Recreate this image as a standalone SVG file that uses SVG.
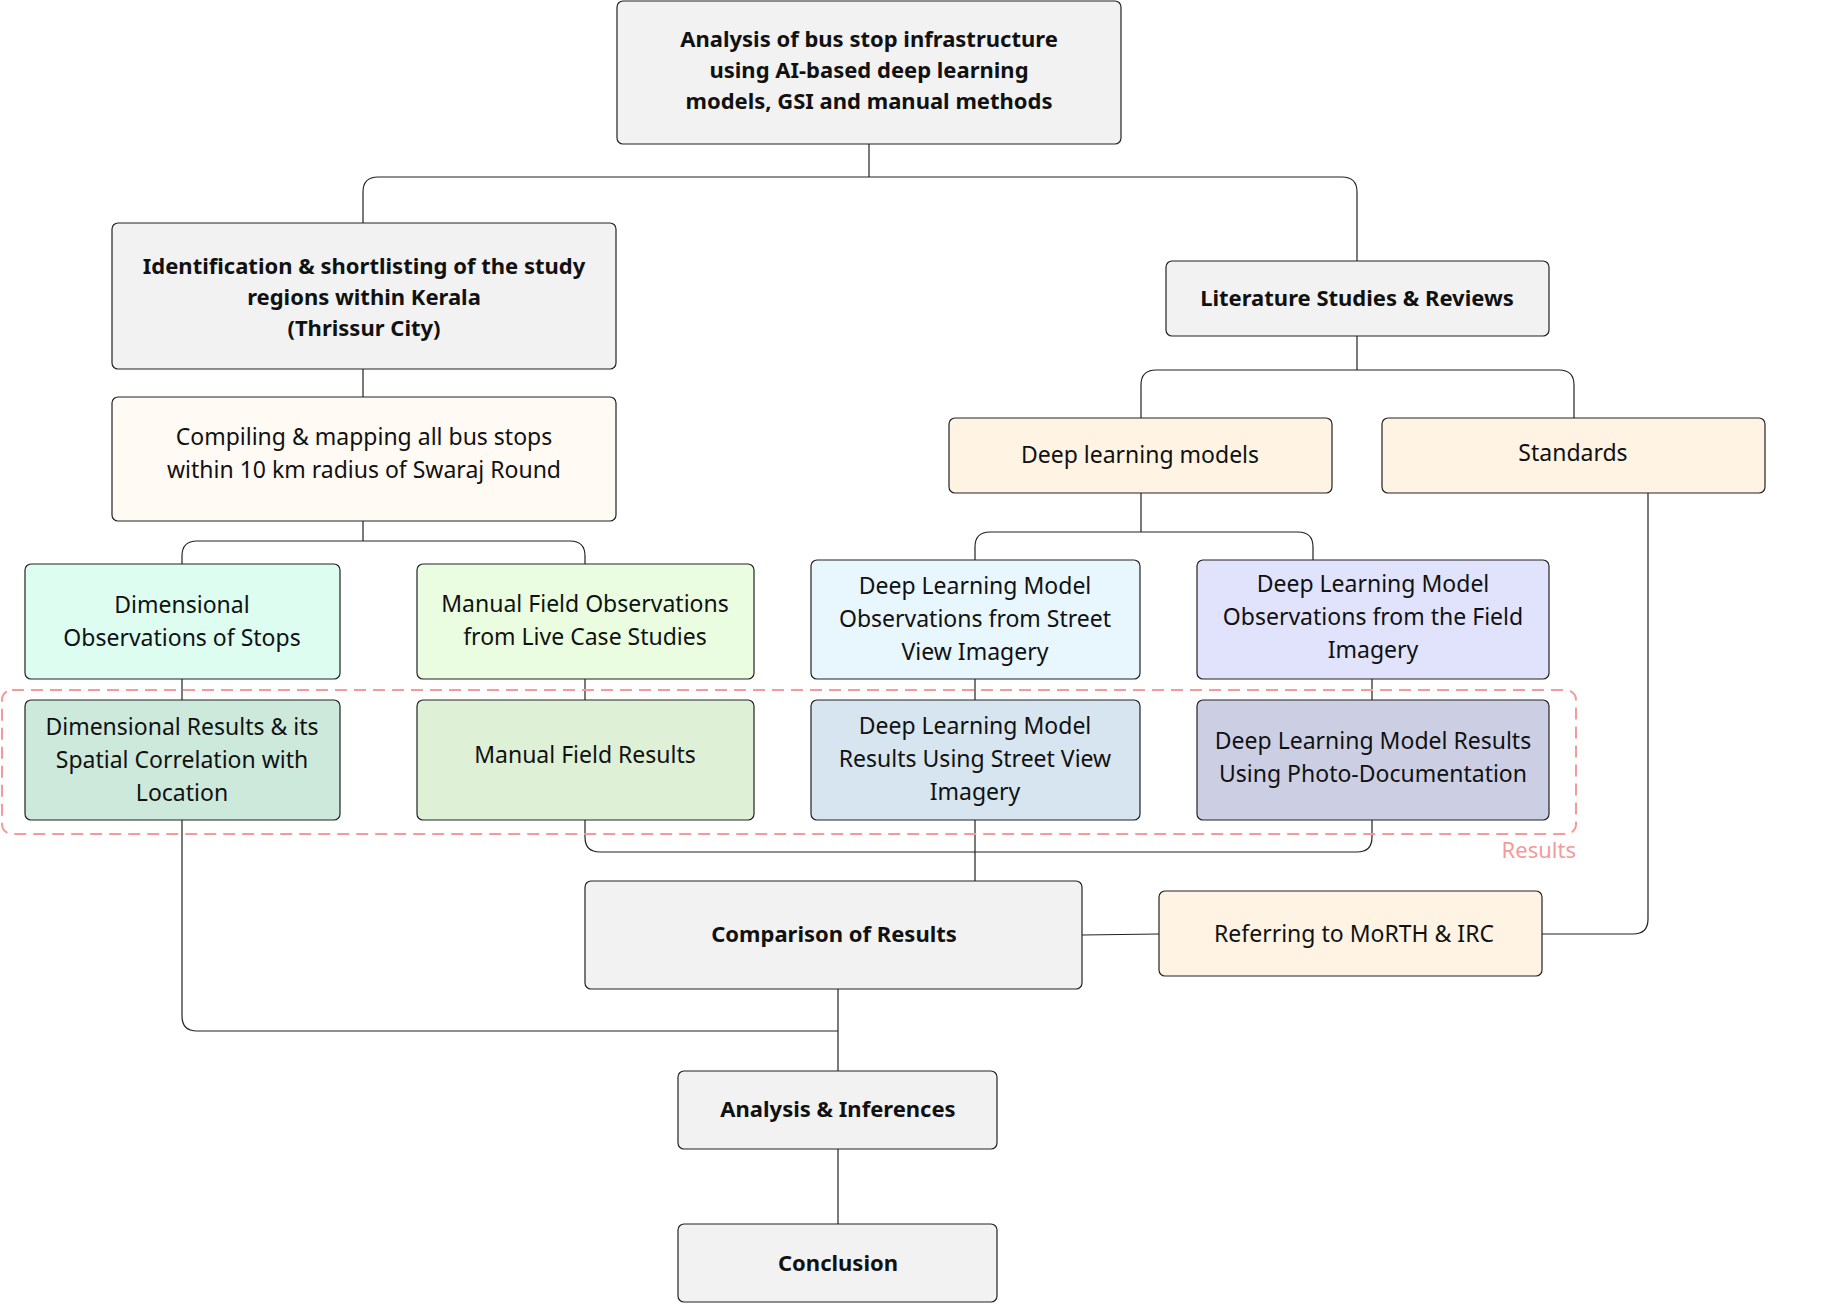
<svg xmlns="http://www.w3.org/2000/svg" width="1828" height="1305" viewBox="0 0 1828 1305">
<style>
.b{stroke:#222;stroke-width:1.2}
.g{fill:#f2f2f2}
.c{fill:#fff3e3}
text{font-family:"Noto Sans","Liberation Sans",sans-serif;font-size:23px;fill:#111;text-anchor:middle}
.t{font-weight:bold;font-size:22px}
.l{fill:none;stroke:#222;stroke-width:1.2}
</style>
<rect width="1828" height="1305" fill="#fff"/>
<g id="connectors">
<path class="l" d="M869 144V177M363 223V192Q363 177 378 177H1342Q1357 177 1357 192V261"/>
<path class="l" d="M1357 336V370H1156Q1141 370 1141 385V418M1357 370H1559Q1574 370 1574 385V418"/>
<path class="l" d="M363 369V397M363 521V541H197Q182 541 182 556V564M363 541H570Q585 541 585 556V564"/>
<path class="l" d="M1141 493V532H990Q975 532 975 547V560M1141 532H1298Q1313 532 1313 547V560"/>
<path class="l" d="M182 679V700M585 679V700M975 679V700M1372 679V700"/>
<path class="l" d="M585 820V837Q585 852 600 852H1357Q1372 852 1372 837V820M975 820V881"/>
<path class="l" d="M1082 935L1159 934M1542 934H1633Q1648 934 1648 919V493"/>
<path class="l" d="M182 820V1016Q182 1031 197 1031H838M838 989V1071M838 1149V1224"/>
</g>
<g id="results-group">
<rect x="2" y="690" width="1574" height="144" rx="10" fill="none" stroke="#f59a9a" stroke-width="2" stroke-dasharray="12 7"/>
<text x="1576" y="858" style="text-anchor:end;fill:#f59a9a;font-size:22px">Results</text>
</g>
<g id="n1"><rect class="b g" x="617" y="1" width="504" height="143" rx="6"/>
<text class="t" x="869" y="47">Analysis of bus stop infrastructure</text><text class="t" x="869" y="78">using AI-based deep learning</text><text class="t" x="869" y="109">models, GSI and manual methods</text></g>
<g id="n2"><rect class="b g" x="112" y="223" width="504" height="146" rx="6"/>
<text class="t" x="364" y="274">Identification &amp; shortlisting of the study</text><text class="t" x="364" y="305">regions within Kerala</text><text class="t" x="364" y="336">(Thrissur City)</text></g>
<g id="n3"><rect class="b g" x="1166" y="261" width="383" height="75" rx="6"/>
<text class="t" x="1357" y="306">Literature Studies &amp; Reviews</text></g>
<g id="n4"><rect class="b" fill="#fffaf3" x="112" y="397" width="504" height="124" rx="6"/>
<text x="364" y="445">Compiling &amp; mapping all bus stops</text><text x="364" y="478">within 10 km radius of Swaraj Round</text></g>
<g id="n5"><rect class="b c" x="949" y="418" width="383" height="75" rx="6"/>
<text x="1140" y="463">Deep learning models</text></g>
<g id="n6"><rect class="b c" x="1382" y="418" width="383" height="75" rx="6"/>
<text x="1573" y="461">Standards</text></g>
<g id="n7"><rect class="b" fill="#dcfdf0" x="25" y="564" width="315" height="115" rx="6"/>
<text x="182" y="613">Dimensional</text><text x="182" y="646">Observations of Stops</text></g>
<g id="n8"><rect class="b" fill="#eafde0" x="417" y="564" width="337" height="115" rx="6"/>
<text x="585" y="612">Manual Field Observations</text><text x="585" y="645">from Live Case Studies</text></g>
<g id="n9"><rect class="b" fill="#e8f6fd" x="811" y="560" width="329" height="119" rx="6"/>
<text x="975" y="594">Deep Learning Model</text><text x="975" y="627">Observations from Street</text><text x="975" y="660">View Imagery</text></g>
<g id="n10"><rect class="b" fill="#e0e3fb" x="1197" y="560" width="352" height="119" rx="6"/>
<text x="1373" y="592">Deep Learning Model</text><text x="1373" y="625">Observations from the Field</text><text x="1373" y="658">Imagery</text></g>
<g id="n11"><rect class="b" fill="#cce9dc" x="25" y="700" width="315" height="120" rx="6"/>
<text x="182" y="735">Dimensional Results &amp; its</text><text x="182" y="768">Spatial Correlation with</text><text x="182" y="801">Location</text></g>
<g id="n12"><rect class="b" fill="#def0d6" x="417" y="700" width="337" height="120" rx="6"/>
<text x="585" y="763">Manual Field Results</text></g>
<g id="n13"><rect class="b" fill="#d6e5ef" x="811" y="700" width="329" height="120" rx="6"/>
<text x="975" y="734">Deep Learning Model</text><text x="975" y="767">Results Using Street View</text><text x="975" y="800">Imagery</text></g>
<g id="n14"><rect class="b" fill="#cccfe4" x="1197" y="700" width="352" height="120" rx="6"/>
<text x="1373" y="749">Deep Learning Model Results</text><text x="1373" y="782">Using Photo-Documentation</text></g>
<g id="n15"><rect class="b g" x="585" y="881" width="497" height="108" rx="6"/>
<text class="t" x="834" y="942">Comparison of Results</text></g>
<g id="n16"><rect class="b c" x="1159" y="891" width="383" height="85" rx="6"/>
<text x="1354" y="942">Referring to MoRTH &amp; IRC</text></g>
<g id="n17"><rect class="b g" x="678" y="1071" width="319" height="78" rx="6"/>
<text class="t" x="838" y="1117">Analysis &amp; Inferences</text></g>
<g id="n18"><rect class="b g" x="678" y="1224" width="319" height="78" rx="6"/>
<text class="t" x="838" y="1271">Conclusion</text></g>
</svg>
